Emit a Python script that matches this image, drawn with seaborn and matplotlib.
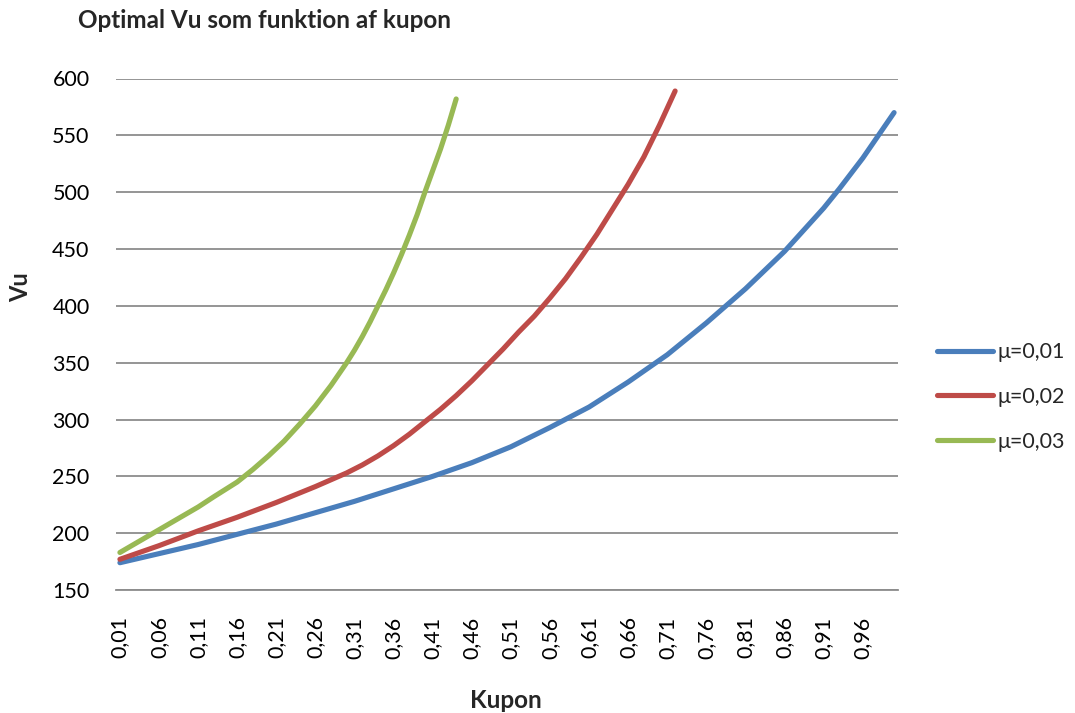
import numpy as np
import pandas as pd
import seaborn as sns
import matplotlib
matplotlib.use("Agg")
import matplotlib.pyplot as plt
from matplotlib.lines import Line2D

# ---- data ----
kupon_blue = [0.01, 0.06, 0.11, 0.16, 0.21, 0.26, 0.31, 0.36, 0.41, 0.46, 0.51,
              0.56, 0.61, 0.66, 0.71, 0.76, 0.81, 0.86, 0.91, 0.93, 0.96, 0.98, 1.00]
vu_blue = [174, 182, 190, 199, 208, 218, 228, 239, 250, 262, 276,
           293, 311, 333, 357, 385, 415, 448, 486, 503, 530, 550, 570]

kupon_red = [0.01, 0.06, 0.11, 0.16, 0.21, 0.26, 0.28, 0.30, 0.32, 0.34, 0.36,
             0.38, 0.40, 0.42, 0.44, 0.46, 0.48, 0.50, 0.52, 0.54, 0.56, 0.58,
             0.60, 0.62, 0.64, 0.66, 0.68, 0.70, 0.72]
vu_red = [177, 189, 202, 214, 227, 241, 247, 253, 260, 268, 277,
          287, 298, 309, 321, 334, 348, 362, 377, 391, 407, 424,
          443, 463, 485, 507, 531, 559, 589]

kupon_green = [0.01, 0.06, 0.11, 0.13, 0.16, 0.18, 0.20, 0.22, 0.24, 0.25, 0.26,
               0.27, 0.28, 0.29, 0.30, 0.31, 0.32, 0.33, 0.34, 0.35, 0.36, 0.37,
               0.38, 0.39, 0.40, 0.41, 0.42, 0.43, 0.44]
vu_green = [183, 203, 223, 232, 245, 256, 268, 281, 296, 304, 312,
            321, 330, 340, 350, 361, 373, 386, 400, 414, 429, 445,
            462, 480, 500, 519, 538, 559, 582]

series_names = ["μ=0,01", "μ=0,02", "μ=0,03"]
colors = ["#4A7EBB", "#BE4B48", "#98B954"]

tick_positions = [round(0.01 + 0.05 * i, 2) for i in range(20)]
tick_labels = [f"{t:.2f}".replace(".", ",") for t in tick_positions]
y_ticks = [150, 200, 250, 300, 350, 400, 450, 500, 550, 600]

title = "Optimal Vu som funktion af kupon"
xlabel = "Kupon"
ylabel = "Vu"

df = pd.concat([
    pd.DataFrame({"Kupon": kupon_blue, "Vu": vu_blue, "serie": series_names[0]}),
    pd.DataFrame({"Kupon": kupon_red, "Vu": vu_red, "serie": series_names[1]}),
    pd.DataFrame({"Kupon": kupon_green, "Vu": vu_green, "serie": series_names[2]}),
])

sns.set_theme(style="white")
plt.rcParams["font.family"] = ["Lato", "DejaVu Sans"]

W, H = 1075, 713
fig = plt.figure(figsize=(W / 100, H / 100), dpi=100)
L, R, T, B = 116, 898, 78.5, 590
ax = fig.add_axes([L / W, 1 - B / H, (R - L) / W, (B - T) / H])

sns.lineplot(data=df, x="Kupon", y="Vu", hue="serie", palette=colors,
             estimator=None, sort=False, linewidth=3.7, ax=ax, legend=False,
             solid_capstyle="round", solid_joinstyle="round")

ax.set_xlim(0.005, 1.005)
ax.set_ylim(150, 600)
ax.set_yticks(y_ticks)
ax.set_yticklabels([str(v) for v in y_ticks])
ax.set_xticks(tick_positions)
ax.set_xticklabels(tick_labels, rotation=90)
ax.tick_params(axis="x", length=0, pad=19, labelsize=15.5, colors="black")
ax.tick_params(axis="y", length=0, pad=19, labelsize=15.5, colors="black")
ax.yaxis.grid(True, color="#8C8C8C", linewidth=1.3)
ax.set_axisbelow(True)
ax.xaxis.grid(False)
for s in ["top", "right", "left"]:
    ax.spines[s].set_visible(False)
ax.spines["bottom"].set_color("#8C8C8C")
ax.spines["bottom"].set_linewidth(1.3)
ax.set_xlabel("")
ax.set_ylabel("")

fig.text(78 / W, 1 - 20 / H, title, fontsize=17.5, fontweight="bold",
         ha="left", va="center")
fig.text(21 / W, 1 - 287 / H, ylabel, fontsize=17, fontweight="bold",
         rotation=90, ha="center", va="center")
fig.text(506 / W, 1 - 700 / H, xlabel, fontsize=17.5, fontweight="bold",
         ha="center", va="center")

handles = [Line2D([0], [0], color=c, linewidth=3.7, solid_capstyle="round")
           for c in colors]
fig.legend(handles, series_names, loc="center left",
           bbox_to_anchor=(937 / W, 1 - 397 / H), frameon=False,
           borderpad=0, borderaxespad=0,
           fontsize=15.5, handlelength=2.6, handletextpad=0.2,
           labelspacing=1.15)

fig.savefig("out.png", dpi=100)
